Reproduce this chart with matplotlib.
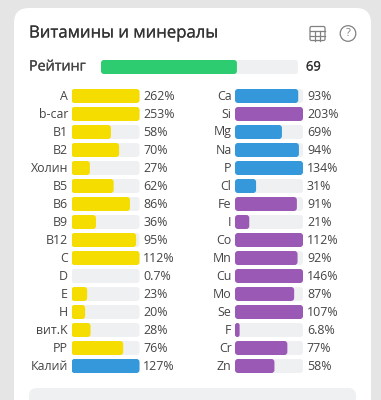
import matplotlib
matplotlib.use('Agg')
import matplotlib.pyplot as plt
import matplotlib.patheffects as pe
from matplotlib.patches import FancyBboxPatch, Circle

W, H = 381, 400

vit_names = ['A', 'b-car', 'B1', 'B2', 'Холин', 'B5', 'B6', 'B9', 'B12', 'C', 'D', 'E', 'H', 'вит.K', 'PP', 'Калий']
vit_values = [262, 253, 58, 70, 27, 62, 86, 36, 95, 112, 0.7, 23, 20, 28, 76, 127]
vit_labels = ['262%', '253%', '58%', '70%', '27%', '62%', '86%', '36%', '95%', '112%', '0.7%', '23%', '20%', '28%', '76%', '127%']
vit_groups = ['v'] * 15 + ['m']

min_names = ['Ca', 'Si', 'Mg', 'Na', 'P', 'Cl', 'Fe', 'I', 'Co', 'Mn', 'Cu', 'Mo', 'Se', 'F', 'Cr', 'Zn']
min_values = [93, 203, 69, 94, 134, 31, 91, 21, 112, 92, 146, 87, 107, 6.8, 77, 58]
min_labels = ['93%', '203%', '69%', '94%', '134%', '31%', '91%', '21%', '112%', '92%', '146%', '87%', '107%', '6.8%', '77%', '58%']
min_groups = ['m', 't', 'm', 'm', 'm', 'm', 't', 't', 't', 't', 't', 't', 't', 't', 't', 't']

rating = 69

colors = {'v': '#f5dd00', 'm': '#3498db', 't': '#9b59b6'}
TRACK = '#eff0f2'
TEXT = '#444444'

plt.rcParams['font.family'] = ['Open Sans', 'DejaVu Sans']

fig = plt.figure(figsize=(W / 100, H / 100), dpi=100, facecolor='#e5e5e5')

# background layer in pixels
bg = fig.add_axes([0, 0, 1, 1])
bg.set_xlim(0, W)
bg.set_ylim(H, 0)
bg.axis('off')
bg.add_patch(FancyBboxPatch((14, 8), 357, 420, boxstyle='round,pad=0,rounding_size=15', fc='white', ec='none'))
bg.add_patch(FancyBboxPatch((29, 388), 327, 40, boxstyle='round,pad=0,rounding_size=8', fc=TRACK, ec='none'))

# stroke fakes the medium weight of the header texts
bg.text(29, 33.5, 'Витамины и минералы', fontsize=12.05, color='#333333', va='center', ha='left',
        path_effects=[pe.withStroke(linewidth=0.15, foreground='#333333')])
bg.text(29, 67, 'Рейтинг', fontsize=10.3, color=TEXT, va='center', ha='left',
        path_effects=[pe.withStroke(linewidth=0.2, foreground=TEXT)])
bg.text(306, 67, str(rating), fontsize=9.3, color='#333333', va='center', ha='left',
        path_effects=[pe.withStroke(linewidth=0.2, foreground='#333333')])

# table icon
icon = '#808080'
bg.add_patch(FancyBboxPatch((310, 26.5), 15, 14, boxstyle='round,pad=0,rounding_size=1.5', fc='none', ec=icon, lw=0.9))
bg.plot([310, 325], [31, 31], color=icon, lw=0.9)
bg.plot([310, 325], [35.7, 35.7], color=icon, lw=0.9)
bg.plot([315, 315], [31, 40.5], color=icon, lw=0.9)
bg.plot([320, 320], [31, 40.5], color=icon, lw=0.9)
# help icon
bg.add_patch(Circle((348, 33.5), 7.8, fc='none', ec=icon, lw=0.9))
bg.text(348, 33.5, '?', fontsize=8, color=icon, ha='center', va='center')


def draw_bar(x, row, width, color, px_per_x, px_row, bar_h=14, radius=3):
    h = bar_h / px_row
    r = min(radius, width * px_per_x / 2) / px_per_x
    return FancyBboxPatch((x, row - h / 2), width, h,
                          boxstyle=f'round,pad=0,rounding_size={r}',
                          mutation_aspect=px_per_x / px_row, fc=color, ec='none')


def column(x0, names, values, labels, groups, px_w=68, top=87, px_row=18):
    ax = fig.add_axes([x0 / W, 1 - (top + px_row * 16) / H, px_w / W, px_row * 16 / H])
    # x axis is percent of the norm, capped at 100, y axis is the row number
    ax.set_xlim(0, 100)
    ax.set_ylim(15.5, -0.5)
    ax.axis('off')
    px_per_x = px_w / 100
    for i in range(len(names)):
        ax.add_patch(draw_bar(0, i, 100, TRACK, px_per_x, px_row))
        ax.add_patch(draw_bar(0, i, min(values[i], 100), colors[groups[i]], px_per_x, px_row))
        ax.annotate(names[i], (0, i), xytext=(-2.5, 0), textcoords='offset points', ha='right', va='center',
                    fontsize=8.9, color=TEXT)
        ax.annotate(labels[i], (100, i), xytext=(2.8, 0), textcoords='offset points', ha='left', va='center',
                    fontsize=8.9, color=TEXT, annotation_clip=False)


column(71.5, vit_names, vit_values, vit_labels, vit_groups)
column(235, min_names, min_values, min_labels, min_groups)

# rating bar
rax = fig.add_axes([101 / W, 1 - 74 / H, 197 / W, 14 / H])
rax.set_xlim(0, 100)
rax.set_ylim(0.5, -0.5)
rax.axis('off')
rax.add_patch(draw_bar(0, 0, 100, TRACK, 1.97, 14))
rax.add_patch(draw_bar(0, 0, rating, '#2ecc71', 1.97, 14))

fig.savefig('out.png', dpi=100, facecolor=fig.get_facecolor())
